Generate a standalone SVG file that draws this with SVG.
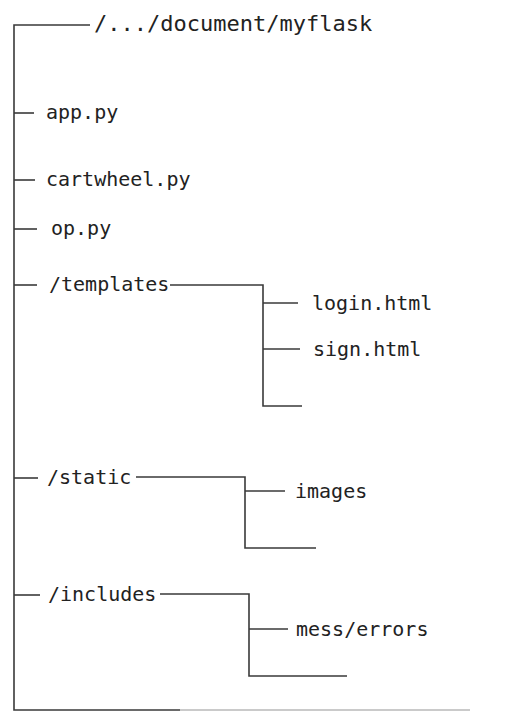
<svg xmlns="http://www.w3.org/2000/svg" width="526" height="711" viewBox="0 0 526 711">
  <style>
    .bg { fill: #ffffff; }
    .wire { fill: none; stroke: #3a3a3a; stroke-width: 1.6; stroke-linecap: butt; stroke-linejoin: miter; }
    .fade { fill: none; stroke: #b8b8b8; stroke-width: 1.4; }
    .lbl { font-family: "DejaVu Sans Mono", "Liberation Mono", monospace; font-size: 20px; fill: #222222; }
    .root { font-size: 22px; }
  </style>
  <rect class="bg" x="0" y="0" width="526" height="711"/>

  <!-- tree connectors -->
  <g id="connectors">
    <!-- trunk -->
    <path class="wire" d="M90 25 H14 V710 H180"/>
    <path class="fade" d="M180 710 H470"/>
    <!-- top-level entries -->
    <path class="wire" d="M14 113 H34"/>
    <path class="wire" d="M14 180 H35"/>
    <path class="wire" d="M14 229 H37"/>
    <path class="wire" d="M14 285 H37"/>
    <path class="wire" d="M14 478 H38"/>
    <path class="wire" d="M14 595 H40"/>
    <!-- templates branch -->
    <path class="wire" d="M170 285 H263 V406 H302"/>
    <path class="wire" d="M263 303 H298"/>
    <path class="wire" d="M263 349 H300"/>
    <!-- static branch -->
    <path class="wire" d="M136 477 H245 V548 H316"/>
    <path class="wire" d="M245 491 H285"/>
    <!-- includes branch -->
    <path class="wire" d="M160 594 H249 V676 H347"/>
    <path class="wire" d="M249 629 H288"/>
  </g>

  <g id="node-root"><text class="lbl root" x="94" y="31">/.../document/myflask</text></g>
  <g id="node-app"><text class="lbl" x="46" y="119">app.py</text></g>
  <g id="node-cartwheel"><text class="lbl" x="46" y="186">cartwheel.py</text></g>
  <g id="node-op"><text class="lbl" x="51" y="235">op.py</text></g>
  <g id="node-templates"><text class="lbl" x="49" y="291">/templates</text></g>
  <g id="node-login"><text class="lbl" x="312" y="310">login.html</text></g>
  <g id="node-sign"><text class="lbl" x="313" y="356">sign.html</text></g>
  <g id="node-static"><text class="lbl" x="47" y="484">/static</text></g>
  <g id="node-images"><text class="lbl" x="295" y="498">images</text></g>
  <g id="node-includes"><text class="lbl" x="48" y="601">/includes</text></g>
  <g id="node-mess"><text class="lbl" x="296" y="636">mess/errors</text></g>
</svg>
